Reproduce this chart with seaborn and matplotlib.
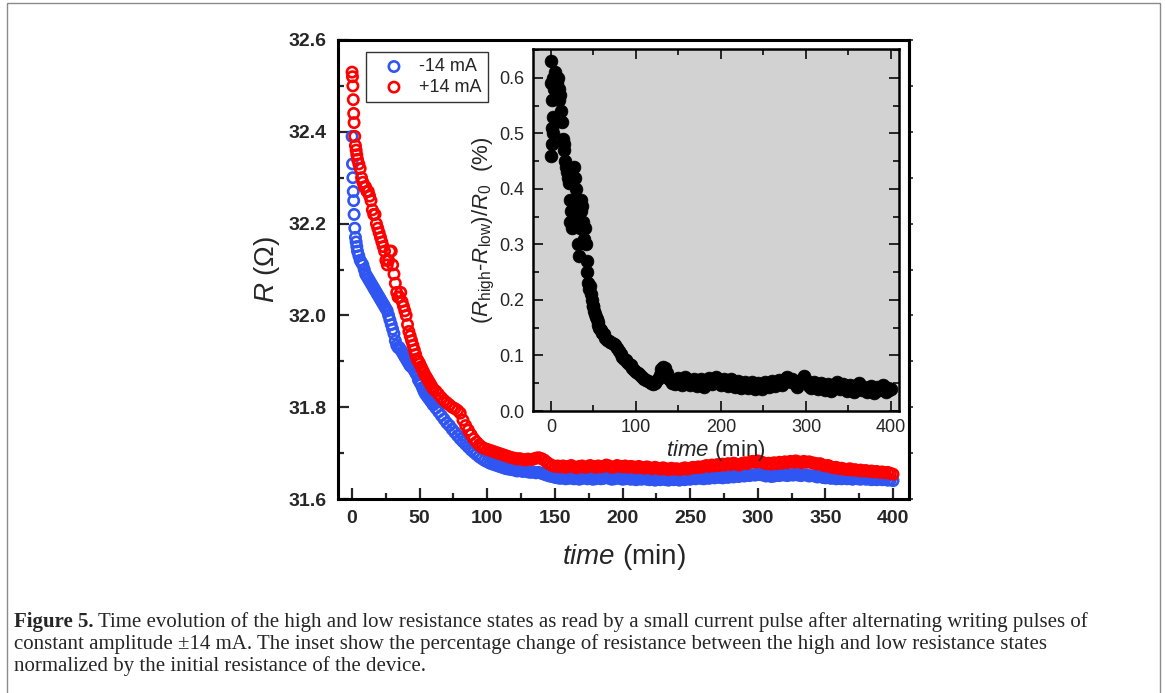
import numpy as np
import pandas as pd
import seaborn as sns
import matplotlib
matplotlib.use('Agg')
from matplotlib import pyplot as plt
from matplotlib.ticker import MultipleLocator
from matplotlib.patches import Rectangle

sns.set_style('ticks')
plt.rcParams['font.family'] = ['Liberation Sans', 'DejaVu Sans']
plt.rcParams['mathtext.fontset'] = 'custom'
plt.rcParams['mathtext.rm'] = 'Liberation Sans'
plt.rcParams['mathtext.it'] = 'Liberation Sans:italic'
plt.rcParams['mathtext.bf'] = 'Liberation Sans:bold'

# time (min)
time_min = [
    0, 0.3, 0.6, 0.9, 1.2, 1.5, 2, 2.5, 3, 3.5, 4,
    5, 6, 7, 8, 9, 10, 11, 12, 13, 14,
    15, 16, 17, 18, 19, 20, 21, 22, 23, 24,
    25, 26, 27, 28, 29, 30, 31, 32, 33, 34,
    35, 36, 37, 38, 39, 40, 41, 42, 43, 44,
    45, 46, 47, 48, 49, 50, 51, 52, 53, 54,
    55, 56, 57, 58, 59, 60,
    62, 64, 66, 68, 70, 72, 74, 76, 78, 80,
    82, 84, 86, 88, 90, 92, 94, 96, 98, 100,
    102, 104, 106, 108, 110, 112, 114, 116, 118, 120,
    122, 124, 126, 128, 130, 132, 134, 136, 138, 140,
    142, 144, 146, 148, 150, 152, 154, 156, 158, 160,
    162, 164, 166, 168, 170, 172, 174, 176, 178, 180,
    182, 184, 186, 188, 190, 192, 194, 196, 198, 200,
    202, 204, 206, 208, 210, 212, 214, 216, 218, 220,
    222, 224, 226, 228, 230, 232, 234, 236, 238, 240,
    242, 244, 246, 248, 250, 252, 254, 256, 258, 260,
    262, 264, 266, 268, 270, 272, 274, 276, 278, 280,
    282, 284, 286, 288, 290, 292, 294, 296, 298, 300,
    302, 304, 306, 308, 310, 312, 314, 316, 318, 320,
    322, 324, 326, 328, 330, 332, 334, 336, 338, 340,
    342, 344, 346, 348, 350, 352, 354, 356, 358, 360,
    362, 364, 366, 368, 370, 372, 374, 376, 378, 380,
    382, 384, 386, 388, 390, 392, 394, 396, 398, 400,
]

# R (ohm) read with -14 mA pulses
r_minus = [
    32.39, 32.33, 32.30, 32.27, 32.25, 32.22, 32.19, 32.17, 32.16, 32.15, 32.14,
    32.13, 32.12, 32.115, 32.11, 32.10, 32.09, 32.085, 32.08, 32.075, 32.07,
    32.065, 32.06, 32.055, 32.05, 32.045, 32.04, 32.035, 32.03, 32.025, 32.02,
    32.015, 32.01, 32.00, 31.99, 31.98, 31.97, 31.96, 31.945, 31.935, 31.93,
    31.93, 31.925, 31.92, 31.915, 31.91, 31.905, 31.90, 31.895, 31.89, 31.888,
    31.885, 31.88, 31.875, 31.87, 31.86, 31.855, 31.85, 31.843, 31.836, 31.83,
    31.826, 31.822, 31.818, 31.814, 31.81, 31.805,
    31.798, 31.790, 31.782, 31.774, 31.766, 31.760, 31.752, 31.745, 31.738, 31.731,
    31.725, 31.719, 31.713, 31.707, 31.702, 31.697, 31.692, 31.688, 31.684, 31.681,
    31.678, 31.676, 31.674, 31.672, 31.670, 31.668, 31.666, 31.665, 31.664, 31.663,
    31.661, 31.662, 31.660, 31.661, 31.659, 31.658, 31.659, 31.657, 31.658, 31.656,
    31.654, 31.652, 31.650, 31.649, 31.647, 31.646, 31.645, 31.646, 31.644, 31.645,
    31.646, 31.644, 31.645, 31.643, 31.645, 31.646, 31.644, 31.645, 31.643, 31.644,
    31.646, 31.644, 31.645, 31.647, 31.645, 31.643, 31.644, 31.646, 31.645, 31.643,
    31.644, 31.645, 31.643, 31.644, 31.642, 31.644, 31.643, 31.645, 31.643, 31.642,
    31.643, 31.641, 31.643, 31.642, 31.644, 31.642, 31.641, 31.643, 31.642, 31.643,
    31.641, 31.643, 31.642, 31.644, 31.643, 31.645, 31.644, 31.646, 31.645, 31.644,
    31.646, 31.645, 31.647, 31.646, 31.648, 31.647, 31.646, 31.648, 31.647, 31.649,
    31.648, 31.650, 31.649, 31.651, 31.650, 31.652, 31.651, 31.653, 31.652, 31.654,
    31.653, 31.652, 31.650, 31.651, 31.649, 31.650, 31.652, 31.651, 31.653, 31.652,
    31.651, 31.653, 31.652, 31.654, 31.652, 31.651, 31.653, 31.652, 31.650, 31.651,
    31.650, 31.648, 31.649, 31.647, 31.646, 31.647, 31.645, 31.646, 31.644, 31.645,
    31.644, 31.646, 31.644, 31.645, 31.643, 31.645, 31.644, 31.643, 31.645, 31.643,
    31.644, 31.642, 31.643, 31.642, 31.644, 31.642, 31.643, 31.641, 31.642, 31.640,
]

# R (ohm) read with +14 mA pulses
r_plus = [
    32.53, 32.52, 32.50, 32.47, 32.44, 32.42, 32.39, 32.37, 32.36, 32.35, 32.34,
    32.33, 32.32, 32.30, 32.29, 32.28, 32.28, 32.27, 32.27, 32.26, 32.25,
    32.23, 32.22, 32.22, 32.20, 32.19, 32.18, 32.17, 32.16, 32.15, 32.14,
    32.12, 32.11, 32.12, 32.14, 32.14, 32.11, 32.09, 32.07, 32.05, 32.04,
    32.04, 32.05, 32.03, 32.02, 32.01, 32.00, 31.98, 31.965, 31.955, 31.945,
    31.935, 31.925, 31.915, 31.905, 31.90, 31.895, 31.888, 31.882, 31.876, 31.87,
    31.865, 31.86, 31.855, 31.85, 31.845, 31.84,
    31.835, 31.828, 31.821, 31.815, 31.810, 31.805, 31.800, 31.797, 31.793, 31.787,
    31.772, 31.760, 31.750, 31.740, 31.731, 31.724, 31.718, 31.713, 31.710, 31.708,
    31.706, 31.704, 31.702, 31.700, 31.698, 31.696, 31.694, 31.692, 31.690, 31.689,
    31.687, 31.688, 31.686, 31.685, 31.687, 31.686, 31.687, 31.689, 31.690, 31.688,
    31.685, 31.680, 31.676, 31.673, 31.671, 31.672, 31.670, 31.672, 31.669, 31.671,
    31.673, 31.670, 31.668, 31.671, 31.672, 31.669, 31.670, 31.673, 31.671, 31.669,
    31.672, 31.670, 31.671, 31.674, 31.672, 31.669, 31.670, 31.673, 31.671, 31.670,
    31.672, 31.669, 31.671, 31.670, 31.668, 31.671, 31.669, 31.667, 31.670, 31.668,
    31.666, 31.669, 31.667, 31.665, 31.668, 31.666, 31.664, 31.667, 31.665, 31.666,
    31.664, 31.666, 31.668, 31.665, 31.667, 31.669, 31.668, 31.670, 31.669, 31.671,
    31.673, 31.671, 31.674, 31.672, 31.675, 31.673, 31.676, 31.674, 31.677, 31.675,
    31.678, 31.676, 31.674, 31.677, 31.679, 31.677, 31.680, 31.682, 31.680, 31.683,
    31.681, 31.679, 31.677, 31.678, 31.676, 31.679, 31.677, 31.680, 31.678, 31.681,
    31.679, 31.682, 31.680, 31.683, 31.681, 31.679, 31.682, 31.680, 31.681, 31.679,
    31.678, 31.676, 31.677, 31.674, 31.672, 31.673, 31.670, 31.668, 31.669, 31.666,
    31.667, 31.665, 31.664, 31.666, 31.663, 31.664, 31.662, 31.663, 31.661, 31.662,
    31.660, 31.661, 31.659, 31.660, 31.658, 31.659, 31.657, 31.658, 31.656, 31.654,
]

# (R_high - R_low) / R_0 in %
dr_pct = [
    0.63, 0.59, 0.46, 0.56, 0.51, 0.48, 0.60, 0.50, 0.53, 0.58, 0.60,
    0.61, 0.60, 0.59, 0.60, 0.58, 0.56, 0.57, 0.54, 0.52, 0.49,
    0.47, 0.48, 0.45, 0.44, 0.43, 0.42, 0.41, 0.38, 0.34, 0.36,
    0.33, 0.38, 0.44, 0.42, 0.40, 0.37, 0.35, 0.30, 0.28, 0.33,
    0.36, 0.38, 0.37, 0.34, 0.31, 0.33, 0.30, 0.27, 0.25, 0.23,
    0.22, 0.225, 0.21, 0.20, 0.19, 0.19, 0.18, 0.175, 0.17, 0.165,
    0.16, 0.155, 0.15, 0.148, 0.145, 0.14,
    0.138, 0.132, 0.128, 0.126, 0.124, 0.122, 0.121, 0.119, 0.114, 0.108,
    0.102, 0.098, 0.094, 0.091, 0.088, 0.085, 0.082, 0.078, 0.074, 0.070,
    0.068, 0.066, 0.063, 0.060, 0.058, 0.056, 0.054, 0.052, 0.050, 0.049,
    0.051, 0.054, 0.058, 0.064, 0.075, 0.080, 0.078, 0.068, 0.060, 0.055,
    0.050, 0.053, 0.048, 0.056, 0.060, 0.052, 0.047, 0.055, 0.062, 0.057,
    0.051, 0.046, 0.053, 0.058, 0.050, 0.045, 0.052, 0.057, 0.049, 0.044,
    0.050, 0.055, 0.060, 0.054, 0.048, 0.056, 0.062, 0.058, 0.051, 0.047,
    0.053, 0.058, 0.050, 0.045, 0.052, 0.057, 0.049, 0.044, 0.050, 0.054,
    0.047, 0.042, 0.049, 0.053, 0.046, 0.041, 0.048, 0.052, 0.045, 0.040,
    0.047, 0.051, 0.044, 0.040, 0.046, 0.052, 0.048, 0.043, 0.050, 0.054,
    0.049, 0.045, 0.052, 0.056, 0.051, 0.047, 0.054, 0.059, 0.062, 0.057,
    0.052, 0.058, 0.054, 0.048, 0.043, 0.049, 0.055, 0.060, 0.063, 0.056,
    0.050, 0.045, 0.041, 0.047, 0.052, 0.044, 0.039, 0.045, 0.050, 0.043,
    0.038, 0.044, 0.049, 0.042, 0.036, 0.041, 0.047, 0.052, 0.045, 0.039,
    0.043, 0.048, 0.041, 0.036, 0.042, 0.047, 0.040, 0.035, 0.041, 0.046,
    0.050, 0.043, 0.038, 0.044, 0.039, 0.034, 0.040, 0.045, 0.038, 0.033,
    0.039, 0.044, 0.037, 0.042, 0.046, 0.040, 0.035, 0.041, 0.037, 0.040,
]

df = pd.DataFrame({'time': time_min, 'r_minus': r_minus, 'r_plus': r_plus, 'dr': dr_pct})

blue = '#2F55F2'
red = '#FF0000'

fig = plt.figure(figsize=(11.65, 6.93), dpi=100)
ax = fig.add_axes([338 / 1165, 1 - 499 / 693, 571 / 1165, 459 / 693])

sns.scatterplot(data=df, x='time', y='r_minus', ax=ax, marker='o', s=55,
                facecolor='none', edgecolor=blue, linewidth=1.9, label='-14 mA')
sns.scatterplot(data=df, x='time', y='r_plus', ax=ax, marker='o', s=55,
                facecolor='none', edgecolor=red, linewidth=1.9, label='+14 mA')

ax.set_xlim(-10.4, 411.8)
ax.set_ylim(31.6, 32.6)
ax.xaxis.set_major_locator(MultipleLocator(50))
ax.xaxis.set_minor_locator(MultipleLocator(25))
ax.yaxis.set_major_locator(MultipleLocator(0.2))
ax.yaxis.set_minor_locator(MultipleLocator(0.1))
ax.tick_params(which='major', direction='in', length=8, width=1.6, pad=8)
ax.tick_params(which='minor', direction='in', length=4, width=1.6)
for lab in ax.get_xticklabels() + ax.get_yticklabels():
    lab.set_fontweight('bold')
    lab.set_fontsize(14)
for sp in ax.spines.values():
    sp.set_linewidth(2.2)
    sp.set_color('black')

sec = ax.secondary_yaxis('right')
sec.yaxis.set_major_locator(MultipleLocator(0.1))
sec.tick_params(direction='out', length=3, width=1.2, labelright=False)
sec.spines['right'].set_linewidth(2.2)

ax.set_xlabel(r'$\mathit{time}$ (min)', fontsize=20, labelpad=11)
ax.set_ylabel(r'$\mathit{R}$ (Ω)', fontsize=20, labelpad=5)

leg = ax.legend(loc='upper left', bbox_to_anchor=(0.049, 0.974), borderaxespad=0,
                fontsize=13, frameon=True, fancybox=False, handletextpad=0.2,
                borderpad=0.35, labelspacing=0.2, handlelength=2.4)
leg.get_frame().set_edgecolor('black')
leg.get_frame().set_linewidth(1.0)

# inset
axi = fig.add_axes([533 / 1165, 1 - 411 / 693, 366 / 1165, 362 / 693])
axi.set_facecolor('#D2D2D2')
sns.scatterplot(data=df, x='time', y='dr', ax=axi, marker='o', s=85,
                color='black', edgecolor='black', linewidth=0.5)
axi.set_xlim(-21, 409.4)
axi.set_ylim(0, 0.652)
axi.xaxis.set_major_locator(MultipleLocator(100))
axi.xaxis.set_minor_locator(MultipleLocator(50))
axi.yaxis.set_major_locator(MultipleLocator(0.1))
axi.yaxis.set_minor_locator(MultipleLocator(0.05))
axi.tick_params(which='both', direction='in', top=True, right=True, width=1.4)
axi.tick_params(which='major', length=7, labelsize=13, pad=6)
axi.tick_params(which='minor', length=4)
for sp in axi.spines.values():
    sp.set_linewidth(1.8)
    sp.set_color('black')
axi.set_xlabel(r'$\mathit{time}$ (min)', fontsize=16, labelpad=1)
axi.set_ylabel(r'$(\mathit{R}_{\mathrm{high}}$-$\mathit{R}_{\mathrm{low}})/\mathit{R}_0$  (%)',
               fontsize=16, labelpad=2)

# page frame and caption
fig.patches.append(Rectangle((7 / 1165, -0.1), 1153 / 1165, 1.1 - 3 / 693,
                             transform=fig.transFigure, fill=False,
                             edgecolor='#8a8a8a', linewidth=1.0))

cap_size = 15
renderer = fig.canvas.get_renderer()
t0 = fig.text(14 / 1165, 1 - 622 / 693, 'Figure 5.', fontsize=cap_size,
              family='Liberation Serif', fontweight='bold', va='center')
bb = t0.get_window_extent(renderer=renderer)
fig.text((bb.x1 + 4) / 1165, 1 - 622 / 693,
         'Time evolution of the high and low resistance states as read by a small current pulse '
         'after alternating writing pulses of',
         fontsize=cap_size, family='Liberation Serif', va='center')
fig.text(14 / 1165, 1 - 644 / 693,
         'constant amplitude \u00b114 mA. The inset show the percentage change of resistance '
         'between the high and low resistance states',
         fontsize=cap_size, family='Liberation Serif', va='center')
fig.text(14 / 1165, 1 - 666 / 693,
         'normalized by the initial resistance of the device.',
         fontsize=cap_size, family='Liberation Serif', va='center')

fig.savefig('out.png', dpi=100)
